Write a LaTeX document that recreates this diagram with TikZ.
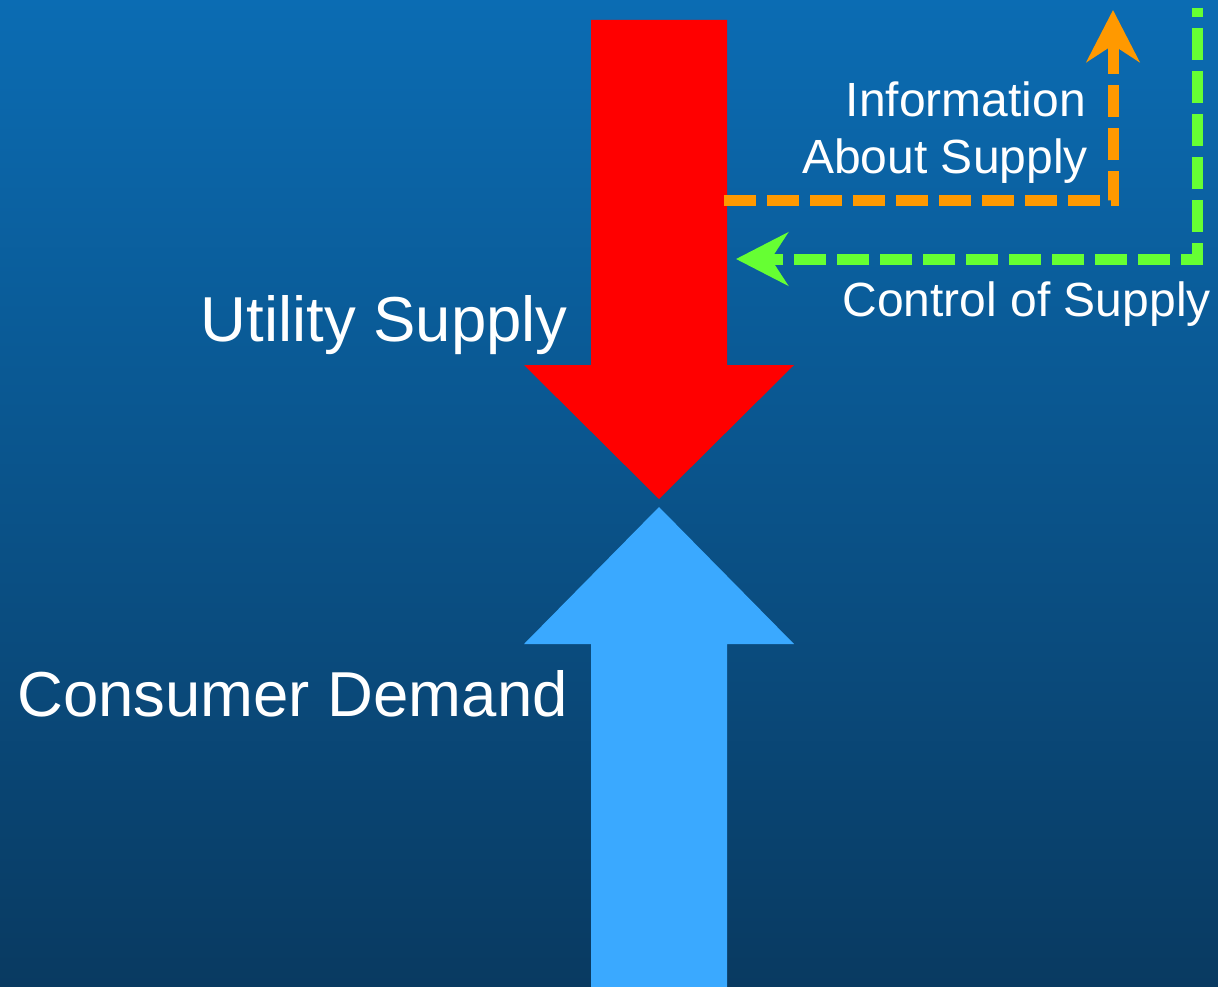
\documentclass[tikz,border=0pt]{standalone}
\usepackage{fontspec}
\setmainfont{Liberation Sans}
\usepackage{tikz}
\usetikzlibrary{positioning,arrows.meta}
\definecolor{BgTop}{RGB}{11,108,179}
\definecolor{BgBottom}{RGB}{9,58,97}
\definecolor{SupplyRed}{RGB}{255,0,0}
\definecolor{DemandBlue}{RGB}{58,169,255}
\definecolor{InfoOrange}{RGB}{255,153,0}
\definecolor{ControlGreen}{RGB}{102,255,51}
\tikzstyle{BigLabel}=[text=white, inner sep=0pt, anchor=base east]
\tikzstyle{FlowLine}=[line width=11pt, dash pattern=on 32pt off 11pt, -{Stealth[length=52pt, width=53pt, inset=17pt]}]

\begin{document}
\begin{tikzpicture}[x=1pt, y=-1pt]

    \useasboundingbox (0,0) rectangle (1218,987);
    \shade [top color=BgTop, bottom color=BgBottom] (0,0) rectangle (1218,987);

    % big arrows
    \fill [SupplyRed] (591,20) -- (727,20) -- (727,365) -- (794,365) -- (659,499) -- (524,365) -- (591,365) -- cycle;
    \fill [DemandBlue] (591,987) -- (727,987) -- (727,644) -- (794,644) -- (659,507) -- (524,644) -- (591,644) -- cycle;

    \node (UtilitySupply) [BigLabel, font=\fontsize{63.5}{74}\selectfont] at (568,341) {Utility Supply};
    \node (ConsumerDemand) [BigLabel, font=\fontsize{63.5}{74}\selectfont] at (568,716) {Consumer Demand};

    \node (Information) [BigLabel, font=\fontsize{48}{58}\selectfont] at (1086,117) {Information};
    \node (AboutSupply) [BigLabel, font=\fontsize{48}{58}\selectfont] at (1088,174) {About Supply};
    \node (ControlSupply) [BigLabel, font=\fontsize{48}{58}\selectfont] at (1211,316) {Control of Supply};

    \coordinate (SupplyShaft) at (724,201);
    \coordinate (InfoTip) at (1113,10);
    \coordinate (ControlTop) at (1197,8);
    \coordinate (SupplyEdge) at (736,259);

    \draw [FlowLine, InfoOrange] (SupplyShaft) -| (InfoTip);
    \draw [FlowLine, ControlGreen, dash phase=23pt] (ControlTop) |- (SupplyEdge);

\end{tikzpicture}
\end{document}
